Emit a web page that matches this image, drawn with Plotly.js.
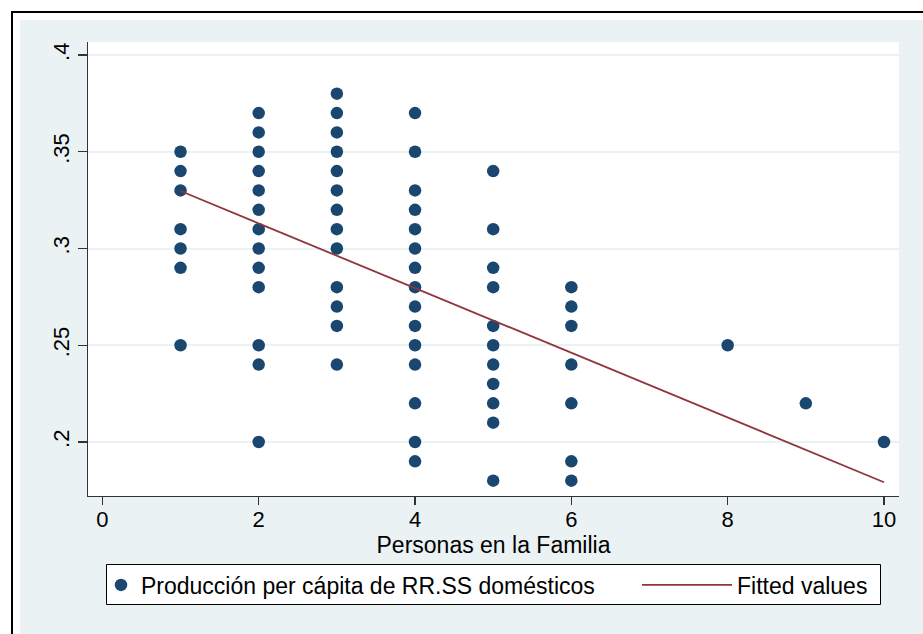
<!DOCTYPE html>
<html>
<head>
<meta charset="utf-8">
<script src="https://cdn.plot.ly/plotly-3.0.1.min.js"></script>
<style>html,body{margin:0;padding:0;background:#fff;overflow:hidden;}#chart{width:923px;height:634px;}</style>
</head>
<body>
<div id="chart"></div>
<script>
// ---- data ----
const famSize = [
  1,1,1,1,1,1,1,
  2,2,2,2,2,2,2,2,2,2,2,2,2,
  3,3,3,3,3,3,3,3,3,3,3,3,3,
  4,4,4,4,4,4,4,4,4,4,4,4,4,4,4,
  5,5,5,5,5,5,5,5,5,5,5,
  6,6,6,6,6,6,6,
  8,9,10
];
const prodPerCapita = [
  0.35,0.34,0.33,0.31,0.30,0.29,0.25,
  0.37,0.36,0.35,0.34,0.33,0.32,0.31,0.30,0.29,0.28,0.25,0.24,0.20,
  0.38,0.37,0.36,0.35,0.34,0.33,0.32,0.31,0.30,0.28,0.27,0.26,0.24,
  0.37,0.35,0.33,0.32,0.31,0.30,0.29,0.28,0.27,0.26,0.25,0.24,0.22,0.20,0.19,
  0.34,0.31,0.29,0.28,0.26,0.25,0.24,0.23,0.22,0.21,0.18,
  0.28,0.27,0.26,0.24,0.22,0.19,0.18,
  0.25,0.22,0.20
];
const fitX = [1, 10];
const fitY = [0.3297, 0.1792];
const xTicks = [0, 2, 4, 6, 8, 10];
const yTicks = [0.2, 0.25, 0.3, 0.35, 0.4];
const yTickText = ['.2', '.25', '.3', '.35', '.4'];
const seriesNames = ['Producción per cápita de RR.SS domésticos', 'Fitted values'];
const xTitle = 'Personas en la Familia';

// ---- layout helpers (pixel -> paper) ----
const W = 923, H = 634, L = 88, R = 24, T = 42, B = 138;
const PW = W - L - R, PH = H - T - B;
const px = x => (x - L) / PW;
const py = y => (H - B - y) / PH;

const FONT = 'Liberation Sans, Arial, sans-serif';
const traces = [
  {
    type: 'scatter', mode: 'markers', name: seriesNames[0], legend: 'legend',
    x: famSize, y: prodPerCapita,
    marker: {color: '#1A476F', size: 12.5, line: {width: 0}}
  },
  {
    type: 'scatter', mode: 'lines', name: seriesNames[1], legend: 'legend2',
    x: fitX, y: fitY,
    line: {color: '#90353B', width: 1.8}
  }
];

const legendCommon = {
  orientation: 'h', yanchor: 'middle', xanchor: 'left',
  bgcolor: 'rgba(0,0,0,0)', borderwidth: 0,
  font: {family: FONT, size: 23, color: '#000'}
};

const layout = {
  width: W, height: H,
  margin: {l: L, r: R, t: T, b: B, pad: 0, autoexpand: false},
  paper_bgcolor: '#EAF2F3',
  plot_bgcolor: '#FFFFFF',
  font: {family: FONT, size: 22, color: '#000'},
  showlegend: true,
  xaxis: {
    range: [-0.184, 10.192], tickvals: xTicks, ticktext: xTicks.map(String),
    showgrid: false, zeroline: false, showline: true, linecolor: '#333', linewidth: 1.2,
    ticks: 'outside', ticklen: 8, tickwidth: 1.2, tickcolor: '#333',
    ticklabelstandoff: -5,
    tickfont: {family: FONT, size: 22, color: '#000'},
    title: {text: xTitle, font: {family: FONT, size: 23, color: '#000'}, standoff: 0},
    automargin: false
  },
  yaxis: {
    range: [0.17209, 0.40672], tickvals: yTicks, ticktext: yTickText, tickangle: -90,
    showgrid: true, gridcolor: '#EAF2F3', gridwidth: 2,
    zeroline: false, showline: true, linecolor: '#333', linewidth: 1.2,
    ticks: 'outside', ticklen: 9, tickwidth: 1.2, tickcolor: '#333',
    tickfont: {family: FONT, size: 22, color: '#000'},
    automargin: false
  },
  legend: Object.assign({}, legendCommon, {x: px(101), y: py(585)}),
  legend2: Object.assign({}, legendCommon, {x: px(637), y: py(585), itemwidth: 90}),
  shapes: [
    {type: 'rect', xref: 'paper', yref: 'paper', x0: px(0), x1: px(20), y0: py(H), y1: py(0), fillcolor: '#FFFFFF', line: {width: 0}, layer: 'above'},
    {type: 'rect', xref: 'paper', yref: 'paper', x0: px(0), x1: px(W), y0: py(20), y1: py(0), fillcolor: '#FFFFFF', line: {width: 0}, layer: 'above'},
    {type: 'line', xref: 'paper', yref: 'paper', x0: px(12), x1: px(12), y0: py(H), y1: py(12), line: {color: '#000', width: 2}, layer: 'above'},
    {type: 'line', xref: 'paper', yref: 'paper', x0: px(11), x1: px(W), y0: py(12), y1: py(12), line: {color: '#000', width: 2}, layer: 'above'},
    {type: 'rect', xref: 'paper', yref: 'paper', x0: px(106.5), x1: px(880.5), y0: py(604.5), y1: py(564.5), fillcolor: '#FFFFFF', line: {color: '#000', width: 1}, layer: 'below'}
  ]
};

Plotly.newPlot('chart', traces, layout, {displayModeBar: false, staticPlot: true});
</script>
</body>
</html>
